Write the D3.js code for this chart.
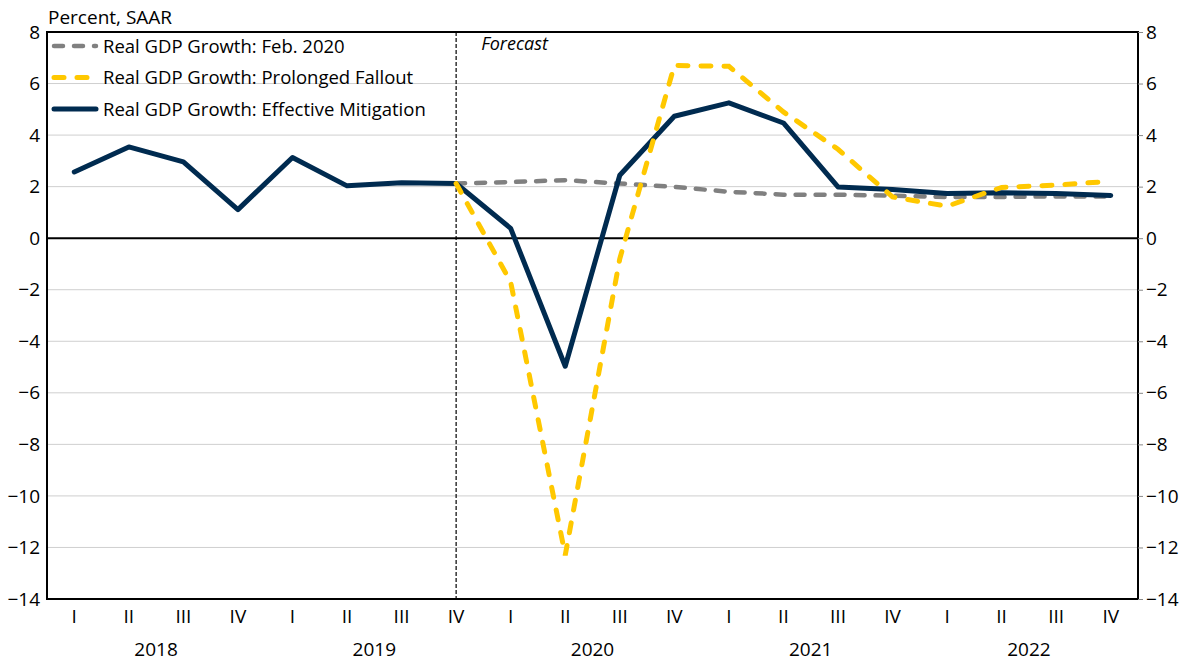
<!DOCTYPE html>
<html>
<head>
<meta charset="utf-8">
<script src="https://cdnjs.cloudflare.com/ajax/libs/d3/7.8.5/d3.min.js"></script>
<style>
  body { margin: 0; background: #fff; }
  text { font-family: "Open Sans", sans-serif; fill: #000; }
</style>
</head>
<body>
<div id="chart"></div>
<script>
const width = 1181;
const height = 663;
const margin = { top: 32, right: 43, bottom: 64, left: 47 };

// quarters 2018 I .. 2022 IV
const quarters = ["I", "II", "III", "IV", "I", "II", "III", "IV", "I", "II", "III", "IV",
                  "I", "II", "III", "IV", "I", "II", "III", "IV"];
const years = ["2018", "2019", "2020", "2021", "2022"];
const yTicks = [8, 6, 4, 2, 0, -2, -4, -6, -8, -10, -12, -14];

const mitigation = [2.57, 3.54, 2.96, 1.11, 3.13, 2.03, 2.15, 2.12, 0.38, -4.97,
                    2.44, 4.73, 5.25, 4.47, 1.99, 1.89, 1.73, 1.76, 1.73, 1.66];
// forecasts start at 2019 IV (index 7)
const forecastStart = 7;
const fallout = [2.12, -1.7, -12.3, -0.8, 6.7, 6.67, 4.9, 3.45, 1.6, 1.24, 1.97, 2.06, 2.21];
const feb2020 = [2.12, 2.18, 2.25, 2.12, 1.99, 1.8, 1.69, 1.69, 1.65, 1.6, 1.6, 1.62, 1.62];

const navy = "#002b50";
const gold = "#ffc800";
const grey = "#808080";

const svg = d3.select("#chart").append("svg")
  .attr("width", width)
  .attr("height", height);

const x = d3.scaleBand()
  .domain(d3.range(quarters.length))
  .range([margin.left, width - margin.right]);

const y = d3.scaleLinear()
  .domain([-14, 8])
  .range([height - margin.bottom, margin.top]);

const cx = i => x(i) + x.bandwidth() / 2;

// gridlines
svg.append("g")
  .selectAll("line")
  .data(yTicks.filter(d => d !== 0 && d !== 8 && d !== -14))
  .join("line")
  .attr("x1", margin.left).attr("x2", width - margin.right)
  .attr("y1", d => y(d)).attr("y2", d => y(d))
  .attr("stroke", "#cfcfcf")
  .attr("stroke-width", 1);

// forecast divider
svg.append("line")
  .attr("x1", cx(forecastStart)).attr("x2", cx(forecastStart))
  .attr("y1", y(8)).attr("y2", y(-14))
  .attr("stroke", "#000")
  .attr("stroke-width", 1.2)
  .attr("stroke-dasharray", "4,2");

svg.append("text")
  .attr("x", cx(forecastStart) + 25)
  .attr("y", 50)
  .style("font-size", "18px")
  .style("font-style", "italic")
  .text("Forecast");

// zero line
svg.append("line")
  .attr("x1", margin.left).attr("x2", width - margin.right)
  .attr("y1", y(0)).attr("y2", y(0))
  .attr("stroke", "#000")
  .attr("stroke-width", 2);

// frame
svg.append("rect")
  .attr("x", margin.left).attr("y", margin.top)
  .attr("width", width - margin.left - margin.right)
  .attr("height", height - margin.top - margin.bottom)
  .attr("fill", "none")
  .attr("stroke", "#000")
  .attr("stroke-width", 2);

// axes
const yLeft = svg.append("g")
  .attr("transform", "translate(" + margin.left + ",0)")
  .call(d3.axisLeft(y).tickValues(yTicks).tickSize(0).tickPadding(7));
yLeft.select(".domain").remove();

const yRight = svg.append("g")
  .attr("transform", "translate(" + (width - margin.right) + ",0)")
  .call(d3.axisRight(y).tickValues(yTicks).tickSize(5).tickPadding(3));
yRight.select(".domain").remove();
yRight.selectAll("line").attr("stroke", "#888");

const xAxis = svg.append("g")
  .attr("transform", "translate(0," + (height - margin.bottom) + ")")
  .call(d3.axisBottom(x).tickFormat(i => quarters[i]).tickSize(0).tickPadding(11));
xAxis.select(".domain").remove();

svg.selectAll(".tick text")
  .style("font-size", "19px")
  .style("font-family", "'Open Sans', sans-serif");

svg.append("g")
  .selectAll("text")
  .data(years)
  .join("text")
  .attr("x", (d, i) => (x(i * 4) + x(i * 4 + 3) + x.bandwidth()) / 2)
  .attr("y", 656)
  .attr("text-anchor", "middle")
  .style("font-size", "19px")
  .text(d => d);

svg.append("text")
  .attr("x", margin.left + 1)
  .attr("y", 24)
  .style("font-size", "19px")
  .text("Percent, SAAR");

// series
const line = d3.line()
  .x(d => cx(d.i))
  .y(d => y(d.v));

const toPts = (arr, start) => arr.map((v, k) => ({ i: k + start, v: v }));

svg.append("path")
  .datum(toPts(feb2020, forecastStart))
  .attr("d", line)
  .attr("fill", "none")
  .attr("stroke", grey)
  .attr("stroke-width", 4.5)
  .attr("stroke-linecap", "round")
  .attr("stroke-dasharray", "9,11");

svg.append("path")
  .datum(toPts(mitigation, 0))
  .attr("d", line)
  .attr("fill", "none")
  .attr("stroke", navy)
  .attr("stroke-width", 5)
  .attr("stroke-linejoin", "round")
  .attr("stroke-linecap", "round");

svg.append("path")
  .datum(toPts(fallout, forecastStart))
  .attr("d", line)
  .attr("fill", "none")
  .attr("stroke", gold)
  .attr("stroke-width", 5)
  .attr("stroke-linecap", "round")
  .attr("stroke-dasharray", "10,13");

// legend
const legendItems = [
  { name: "Real GDP Growth: Feb. 2020", color: grey, dash: "9,11", w: 4.5 },
  { name: "Real GDP Growth: Prolonged Fallout", color: gold, dash: "10,13", w: 5 },
  { name: "Real GDP Growth: Effective Mitigation", color: navy, dash: null, w: 5 }
];

const legend = svg.append("g")
  .selectAll("g")
  .data(legendItems)
  .join("g")
  .attr("transform", (d, i) => "translate(54," + (46 + i * 31.5) + ")");

legend.append("line")
  .attr("x1", 0).attr("x2", 42)
  .attr("stroke", d => d.color)
  .attr("stroke-width", d => d.w)
  .attr("stroke-linecap", "round")
  .attr("stroke-dasharray", d => d.dash);

legend.append("text")
  .attr("x", 49)
  .attr("y", 6.5)
  .style("font-size", "18.5px")
  .text(d => d.name);
</script>
</body>
</html>
